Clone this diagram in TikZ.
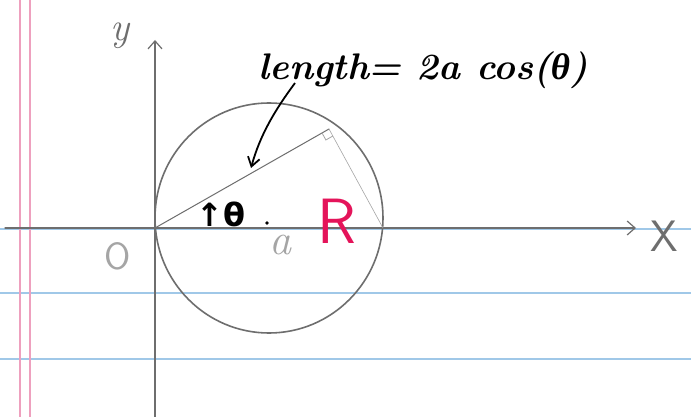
\documentclass[tikz,border=0pt]{standalone}
\usepackage{fontspec}
\newfontfamily\grkfont{Liberation Serif}
\newfontfamily\symfont{DejaVu Sans}
\usetikzlibrary{arrows.meta,calc}
\definecolor{pencil}{RGB}{110,110,110}
\definecolor{lightpencil}{RGB}{165,165,165}
\definecolor{ruleblue}{RGB}{160,200,232}
\definecolor{marginpink}{RGB}{238,160,190}
\definecolor{inkred}{RGB}{228,20,90}
\tikzset{
  pencilline/.style={draw=pencil, line width=1.2pt, line cap=round},
  axisarrow/.style={pencilline, -{Straight Barb[length=8pt,width=14pt]}},
  ink/.style={text=black, inner sep=0pt},
  rulel/.style={draw=ruleblue, line width=1.2pt},
  marginl/.style={draw=marginpink, line width=2pt},
}
\begin{document}
\begin{tikzpicture}[x=1pt,y=-1pt]
\useasboundingbox[fill=white] (0,0) rectangle (691,417);
% paper
\draw[rulel] (0,229) -- (691,229);
\draw[rulel] (0,293) -- (691,293);
\draw[rulel] (0,359) -- (691,359);
\draw[marginl] (20,0) -- (20,417);
\draw[marginl] (30,0) -- (30,417);
% coordinates
\coordinate (O) at (155,228);
\coordinate (xl) at (5,228);
\coordinate (xr) at (636,228);
\coordinate (yb) at (155,417);
\coordinate (yt) at (155,40);
\coordinate (P) at (329,129);
\coordinate (Q) at (383,228);
\coordinate (ctr) at (267,223);
\coordinate (m1) at ($(P)!8pt!(O)$);
\coordinate (m2) at ($(P)!8pt!(Q)$);
\coordinate (m3) at ($(m1)+(m2)-(P)$);
\coordinate (arrs) at (295,83);
\coordinate (arre) at (251,168);
% axes
\draw[axisarrow] (xl) -- (xr);
\draw[axisarrow] (yb) -- (yt);
% circle
\draw[pencilline, line width=1.6pt] (269,218) ellipse [x radius=114, y radius=115];
% chord and faint line
\draw[pencilline, line width=1pt] (O) -- (P);
\draw[draw=lightpencil, line width=0.6pt] (P) -- (Q);
% right angle mark
\draw[draw=lightpencil, line width=0.8pt] (m1) -- (m3) -- (m2);
% labels
\node[text=pencil, font=\fontsize{40}{40}\selectfont\itshape] (ylab) at (120,36) {y};
\node[text=pencil, font=\fontsize{44}{44}\selectfont\sffamily] (xlab) at (664,236) {X};
\node[text=lightpencil, font=\fontsize{38}{38}\selectfont\sffamily] (olab) at (118,256) {O};
\node[text=lightpencil, font=\fontsize{44}{44}\selectfont\itshape] (alab) at (280,245) {a};
\fill[black] (ctr) circle (1.8pt);
\node[text=inkred, font=\fontsize{64}{64}\selectfont\sffamily] (rlab) at (337,221) {R};
\node[ink, font=\fontsize{32}{32}\selectfont\symfont\bfseries] (theta) at (221,214) {↑θ};
\node[ink, font=\fontsize{37}{37}\selectfont\bfseries\itshape] (len) at (423,70) {length= 2a cos({\grkfont\bfseries θ})};
% arrow
\draw[black, line width=1.8pt, -{Straight Barb[length=9pt,width=12pt]}] (arrs) .. controls (275,110) and (260,135) .. (arre);
\end{tikzpicture}
\end{document}
